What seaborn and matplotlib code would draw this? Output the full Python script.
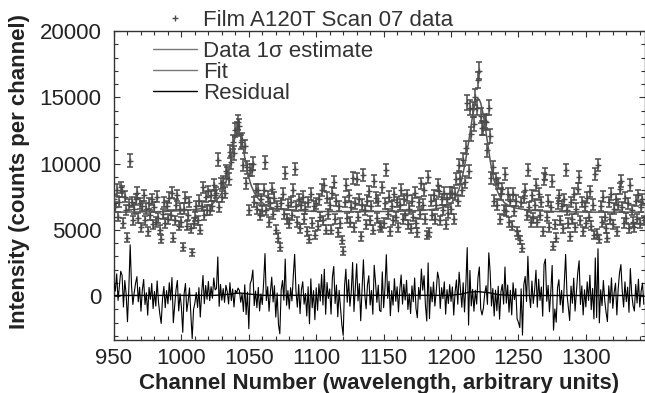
import numpy as np
import pandas as pd
import seaborn as sns
import matplotlib.pyplot as plt
from matplotlib.lines import Line2D
from matplotlib.ticker import MultipleLocator

# values, in hundreds of counts, one per channel from 950
first_channel = 950

counts_hundreds = [
    73, 67, 80, 60, 71, 82, 79, 55, 75, 65,       # 950
    44, 69, 102, 71, 57, 66, 73, 78, 59, 70,      # 960
    52, 68, 76, 57, 66, 49, 70, 61, 73, 54,       # 970
    67, 56, 75, 59, 50, 43, 62, 71, 55, 68,       # 980
    58, 74, 61, 78, 44, 57, 69, 76, 53, 66,       # 990
    56, 37, 66, 74, 53, 61, 71, 51, 33, 55,       # 1000
    60, 68, 57, 72, 50, 68, 82, 61, 75, 65,       # 1010
    79, 65, 76, 68, 84, 76, 78, 103, 67, 85,      # 1020
    75, 86, 78, 94, 93, 88, 109, 101, 116, 108,   # 1030
    125, 126, 131, 128, 116, 118, 99, 113, 85, 97,  # 1040
    65, 95, 95, 100, 71, 80, 66, 80, 61, 73,      # 1050
    64, 80, 101, 65, 75, 56, 70, 81, 62, 74,      # 1060
    50, 68, 44, 37, 70, 77, 62, 93, 58, 69,       # 1070
    55, 71, 61, 80, 96, 68, 56, 73, 51, 69,       # 1080
    75, 58, 66, 49, 71, 43, 77, 55, 68, 46,       # 1090
    70, 53, 73, 60, 80, 57, 84, 50, 74, 62,       # 1100
    69, 50, 78, 86, 58, 72, 48, 68, 55, 42,       # 1110
    34, 71, 84, 59, 76, 56, 67, 89, 52, 70,       # 1120
    88, 60, 73, 45, 69, 91, 65, 54, 72, 79,       # 1130
    57, 68, 50, 87, 74, 59, 72, 53, 52, 82,       # 1140
    55, 70, 95, 62, 75, 49, 68, 57, 77, 60,       # 1150
    71, 52, 69, 80, 58, 73, 61, 76, 54, 66,       # 1160
    51, 72, 60, 78, 55, 48, 71, 62, 85, 69,       # 1170
    80, 58, 46, 90, 48, 72, 61, 76, 58, 69,       # 1180
    84, 79, 57, 73, 65, 78, 54, 73, 63, 78,       # 1190
    66, 78, 58, 77, 88, 72, 99, 89, 80, 103,      # 1200
    86, 112, 146, 94, 142, 122, 141, 130, 150, 142,  # 1210
    163, 170, 136, 127, 127, 132, 131, 110, 142, 121,  # 1220
    89, 97, 72, 88, 69, 85, 58, 77, 81, 65,       # 1230
    92, 64, 77, 56, 72, 53, 77, 64, 72, 49,       # 1240
    46, 42, 71, 36, 74, 80, 61, 95, 67, 56,       # 1250
    76, 59, 69, 84, 56, 77, 61, 71, 49, 88,       # 1260
    92, 60, 72, 52, 67, 87, 38, 54, 44, 70,       # 1270
    76, 57, 68, 51, 73, 95, 65, 55, 45, 71,       # 1280
    58, 77, 52, 66, 81, 90, 57, 71, 49, 68,       # 1290
    55, 74, 60, 79, 53, 69, 46, 92, 47, 99,       # 1300
    43, 68, 56, 75, 60, 51, 44, 71, 58, 77,       # 1310
    54, 66, 73, 49, 69, 81, 87, 67, 55, 74,       # 1320
    59, 70, 51, 84, 65, 56, 52, 72, 58, 76,       # 1330
    55, 67, 73, 57,                               # 1340
]

fit_hundreds = [
    63.3, 63.3, 63.3, 63.3, 63.3, 63.3, 63.3, 63.3, 63.3, 63.3,
    63.4, 63.4, 63.4, 63.4, 63.4, 63.4, 63.4, 63.4, 63.4, 63.4,
    63.5, 63.5, 63.5, 63.5, 63.5, 63.5, 63.5, 63.5, 63.5, 63.5,
    63.6, 63.6, 63.6, 63.7, 63.7, 63.7, 63.8, 63.8, 63.8, 63.9,
    63.9, 64.0, 64.0, 64.1, 64.1, 64.2, 64.2, 64.3, 64.3, 64.3,
    64.3, 64.4, 64.5, 64.6, 64.7, 64.8, 64.9, 65.0, 65.1, 65.2,
    65.3, 65.4, 65.6, 65.7, 65.9, 66.2, 66.5, 66.8, 67.1, 67.5,
    68.0, 68.5, 69.0, 69.7, 70.4, 71.4, 72.3, 73.5, 74.8, 76.3,
    78.2, 80.4, 82.8, 85.9, 89.7, 94.0, 99.0, 104.5, 110.7, 116.3,
    120.7, 123.8, 125.0, 123.8, 120.7, 116.3, 110.7, 104.5, 99.0, 94.0,
    89.7, 85.9, 82.8, 80.4, 78.2, 76.3, 74.8, 73.5, 72.3, 71.4,
    70.4, 69.7, 69.0, 68.5, 68.0, 67.5, 67.1, 66.8, 66.5, 66.2,
    65.9, 65.7, 65.6, 65.5, 65.4, 65.3, 65.2, 65.1, 65.0, 64.9,
    64.8, 64.7, 64.7, 64.6, 64.5, 64.5, 64.4, 64.4, 64.3, 64.3,
    64.2, 64.2, 64.1, 64.1, 64.0, 64.0, 64.0, 63.9, 63.9, 63.9,
    63.8, 63.8, 63.8, 63.8, 63.8, 63.8, 63.8, 63.8, 63.8, 63.8,
    63.7, 63.7, 63.7, 63.7, 63.7, 63.7, 63.7, 63.7, 63.7, 63.7,
    63.7, 63.7, 63.7, 63.7, 63.7, 63.7, 63.7, 63.7, 63.7, 63.7,
    63.7, 63.7, 63.7, 63.7, 63.7, 63.7, 63.7, 63.7, 63.7, 63.7,
    63.8, 63.8, 63.8, 63.8, 63.8, 63.8, 63.8, 63.8, 63.8, 63.8,
    63.8, 63.8, 63.8, 63.8, 63.9, 63.9, 63.9, 63.9, 63.9, 64.0,
    64.0, 64.0, 64.0, 64.1, 64.1, 64.1, 64.1, 64.2, 64.2, 64.2,
    64.3, 64.3, 64.3, 64.4, 64.4, 64.4, 64.5, 64.5, 64.6, 64.6,
    64.7, 64.8, 64.9, 65.0, 65.1, 65.2, 65.4, 65.5, 65.6, 65.8,
    66.0, 66.2, 66.4, 66.7, 67.0, 67.3, 67.7, 68.2, 68.7, 69.4,
    70.1, 71.1, 72.4, 74.0, 75.9, 78.2, 81.0, 84.5, 88.5, 93.0,
    98.0, 103.5, 109.5, 116.0, 122.7, 129.5, 136.0, 141.5, 145.6, 148.1,
    149.0, 148.1, 145.6, 141.3, 136.1, 130.1, 123.2, 116.3, 109.4, 102.6,
    96.5, 91.4, 87.1, 83.6, 80.2, 77.6, 75.5, 73.8, 72.3, 71.1,
    70.1, 69.4, 68.7, 68.2, 67.7, 67.3, 67.0, 66.7, 66.4, 66.2,
    66.0, 65.8, 65.6, 65.5, 65.4, 65.2, 65.1, 65.0, 64.9, 64.8,
    64.7, 64.6, 64.5, 64.5, 64.4, 64.3, 64.3, 64.2, 64.2, 64.1,
    64.1, 64.0, 64.0, 63.9, 63.9, 63.9, 63.8, 63.8, 63.8, 63.7,
    63.7, 63.7, 63.7, 63.6, 63.6, 63.6, 63.6, 63.5, 63.5, 63.5,
    63.5, 63.5, 63.4, 63.4, 63.4, 63.4, 63.4, 63.4, 63.3, 63.3,
    63.3, 63.3, 63.3, 63.3, 63.3, 63.3, 63.3, 63.3, 63.3, 63.3,
    63.3, 63.3, 63.3, 63.3, 63.3, 63.3, 63.3, 63.3, 63.3, 63.3,
    63.3, 63.3, 63.3, 63.3, 63.3, 63.3, 63.3, 63.3, 63.3, 63.3,
    63.3, 63.3, 63.3, 63.3, 63.3, 63.3, 63.3, 63.3, 63.3, 63.3,
    63.3, 63.3, 63.3, 63.3,
]

# error bar size relative to sqrt(counts)
sigma_scale = 4.8

# the thin flat line under the residual
flat_channels = [950, 1025, 1035, 1040, 1044, 1050, 1060, 1200, 1208, 1214, 1220, 1228, 1235, 1245, 1343]
flat_values = [40, 50, 120, 200, 220, 150, 50, 50, 150, 300, 330, 250, 100, 40, 40]

legend_labels = ["Film A120T Scan 07 data", "Data 1σ estimate", "Fit", "Residual"]

assert len(counts_hundreds) == len(fit_hundreds)

df = pd.DataFrame({
    "channel": np.arange(first_channel, first_channel + len(counts_hundreds)),
    "counts": np.array(counts_hundreds, dtype=float) * 100,
    "fit": np.array(fit_hundreds) * 100,
})
df["residual"] = df["counts"] - df["fit"]
df["sigma"] = sigma_scale * np.sqrt(df["counts"])

sns.set_theme(style="ticks")
plt.rcParams["font.family"] = ["Liberation Sans", "DejaVu Sans"]

dark = "#4a4a4a"
fit_color = "#555555"

fig = plt.figure(figsize=(6.45, 3.93), dpi=100)
ax = fig.add_axes([114 / 645, 1 - 340 / 393, 530.5 / 645, 309 / 393])

ax.errorbar(df["channel"], df["counts"], yerr=df["sigma"], fmt="none",
            ecolor=dark, elinewidth=1.1, capsize=2.2, capthick=1.1, zorder=2)
sns.scatterplot(data=df, x="channel", y="counts", marker="+", s=18,
                color=dark, linewidth=1.0, ax=ax, legend=False, zorder=3)
sns.lineplot(data=df, x="channel", y="fit", color=fit_color, lw=1.1,
             errorbar=None, ax=ax, zorder=4)
sns.lineplot(data=df, x="channel", y="residual", color="black", lw=0.8,
             errorbar=None, ax=ax, zorder=4)
sns.lineplot(x=flat_channels, y=flat_values, color="black", lw=1.0,
             errorbar=None, ax=ax, zorder=5)

ax.set_xlim(950, 1343.5)
ax.set_ylim(-3320, 20000)
ax.xaxis.set_major_locator(MultipleLocator(50))
ax.xaxis.set_minor_locator(MultipleLocator(10))
ax.yaxis.set_major_locator(MultipleLocator(5000))
ax.yaxis.set_minor_locator(MultipleLocator(1000))
ax.tick_params(which="both", direction="in", top=True, right=True,
               width=0.8, color="#333333", labelsize=16, labelcolor="#222222")
ax.tick_params(which="major", length=4.5)
ax.tick_params(which="minor", length=2.6)
ax.tick_params(axis="x", pad=6)
ax.tick_params(axis="y", pad=9)
for sp in ax.spines.values():
    sp.set_linewidth(1.0)
    sp.set_color("#333333")

ax.set_xlabel("Channel Number (wavelength, arbitrary units)", fontsize=16,
              fontweight="bold", color="#222222", labelpad=3)
ax.set_ylabel("Intensity (counts per channel)", fontsize=16,
              fontweight="bold", color="#222222")
ax.yaxis.set_label_coords(-0.158, 0.544)

# legend: data entry sits above the frame, the three lines below it
data_handle = Line2D([], [], ls="none", marker="+", ms=5, mew=1.0, color=dark)
line_handles = [
    Line2D([], [], color="#777777", lw=1.0),
    Line2D([], [], color="#777777", lw=1.0),
    Line2D([], [], color="black", lw=1.0),
]
leg_kw = dict(frameon=False, fontsize=16, borderpad=0, borderaxespad=0,
              handlelength=2.0, handletextpad=0.25, labelcolor="#333333",
              bbox_transform=fig.transFigure)
leg1 = ax.legend([data_handle], legend_labels[:1], loc="center left",
                 bbox_to_anchor=(153 / 645, 1 - 20.5 / 393), **leg_kw)
ax.add_artist(leg1)
ax.legend(line_handles, legend_labels[1:], loc="center left",
          bbox_to_anchor=(153 / 645, 1 - 72.5 / 393), labelspacing=0.0,
          **leg_kw)

fig.savefig("out.png", dpi=100)
